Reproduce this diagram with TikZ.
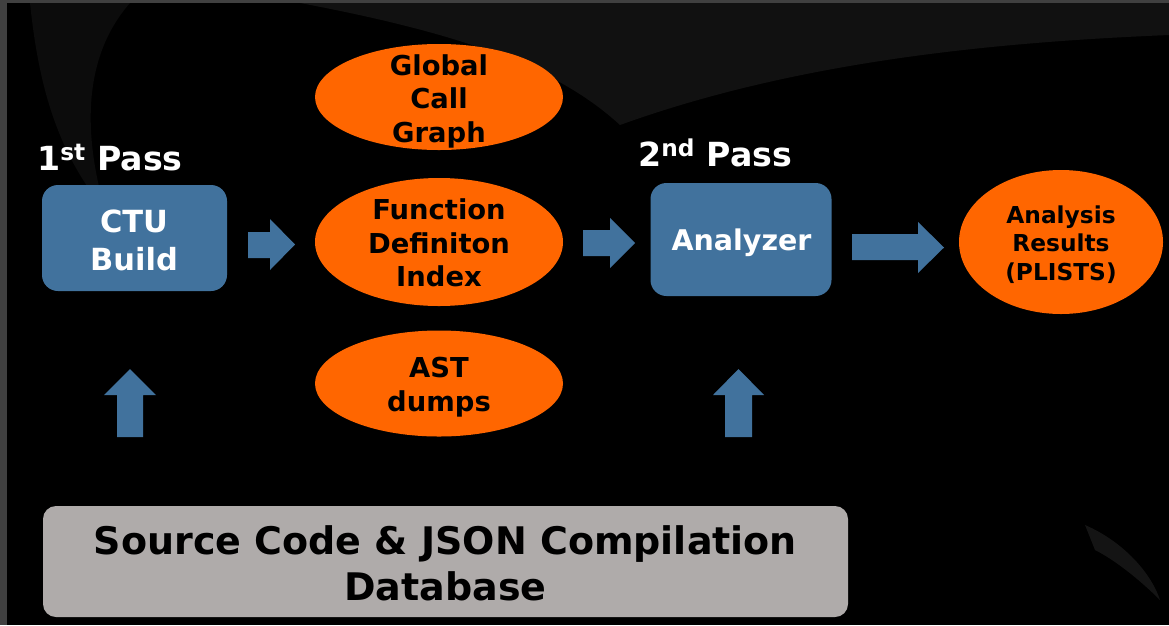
\documentclass[tikz,border=0pt]{standalone}
\usepackage{fontspec}
\setmainfont{DejaVu Sans}
\usetikzlibrary{shapes.geometric}
\definecolor{bluebox}{RGB}{65,114,157}
\definecolor{orng}{RGB}{255,102,0}
\definecolor{dbgray}{RGB}{175,171,170}
\definecolor{stripgray}{RGB}{64,64,64}
\definecolor{swooshA}{RGB}{17,17,17}
\definecolor{swooshB}{RGB}{12,12,12}
\definecolor{swooshC}{RGB}{20,20,20}
\begin{document}
\begin{tikzpicture}[x=1pt,y=-1pt,
  passlabel/.style={text=white,font=\bfseries\fontsize{33.2}{36}\selectfont,anchor=base west,inner sep=0},
  procbox/.style={fill=bluebox,rounded corners=16pt,text=white,align=center,inner sep=0},
  dataell/.style={ellipse,fill=orng,inner sep=0},
  elltext/.style={align=center,text=black,inner sep=0,
     font=\bfseries\fontsize{27.4}{33.5}\selectfont},
  blockarrow/.style={fill=bluebox},
  dbbox/.style={fill=dbgray,rounded corners=13pt,align=center,text=black,inner sep=0}]
\useasboundingbox (0,0) rectangle (1169,625);
% background
\fill[black] (0,0) rectangle (1169,625);
\fill[swooshA] (300,3) -- (1169,3) -- (1169,35) .. controls (1000,42) and (800,60) .. (620,125)
  .. controls (560,70) and (470,35) .. (300,3) -- cycle;
\fill[swooshB] (30,3) -- (130,3) .. controls (80,60) and (85,140) .. (105,210)
  .. controls (55,150) and (38,80) .. (30,3) -- cycle;
\fill[swooshC] (1085,525) .. controls (1120,540) and (1150,570) .. (1160,600)
  .. controls (1140,580) and (1115,560) .. (1095,550) -- cycle;
\fill[stripgray] (0,0) rectangle (7,625);
\fill[stripgray] (0,0) rectangle (1169,3);
% labels
\node[passlabel] (p1) at (37,170) {1\textsuperscript{st} Pass};
\node[passlabel] (p2) at (638,166) {2\textsuperscript{nd} Pass};
% boxes
\node[procbox,minimum width=185pt,minimum height=106pt] (ctu) at (134.5,238) {};
\node[text=white,align=center,inner sep=0,font=\bfseries\fontsize{30.5}{38}\selectfont,anchor=base]
  (ctut) at (134,270) {CTU\\Build};
\node[procbox,minimum width=181pt,minimum height=113pt] (ana) at (741,239.5) {};
\node[text=white,inner sep=0,font=\bfseries\fontsize{28.5}{34}\selectfont,anchor=base]
  (anat) at (741.5,250) {Analyzer};
% ellipses
\node[dataell,minimum width=248pt,minimum height=106pt] (gcg) at (439,97) {};
\node[elltext,anchor=base] (gcgt) at (439,142) {Global\\Call\\Graph};
\node[dataell,minimum width=248pt,minimum height=128pt] (fdi) at (439,242) {};
\node[elltext,anchor=base] (fdit) at (439,286.5) {Function\\Definiton\\Index};
\node[dataell,minimum width=248pt,minimum height=106pt] (ast) at (439,383.5) {};
\node[elltext,anchor=base] (astt) at (439,411) {AST\\dumps};
\node[dataell,minimum width=204pt,minimum height=144pt] (res) at (1061,242) {};
\node[align=center,inner sep=0,anchor=base,font=\bfseries\fontsize{23.3}{28.5}\selectfont]
  (rest) at (1061,280) {Analysis\\Results\\(PLISTS)};
% database
\node[dbbox,minimum width=805pt,minimum height=111pt] (db) at (445.5,561.5) {};
\node[align=center,inner sep=0,anchor=base,font=\bfseries\fontsize{38}{46}\selectfont]
  (dbt) at (445.5,600) {Source Code \& JSON Compilation\\Database};
% block arrows
\fill[blockarrow] (248,232) -- (270,232) -- (270,219) -- (295,244.5) -- (270,270) -- (270,258) -- (248,258) -- cycle;
\fill[blockarrow] (583,230) -- (610,230) -- (610,218) -- (635,243) -- (610,268) -- (610,256) -- (583,256) -- cycle;
\fill[blockarrow] (852,234) -- (918,234) -- (918,222) -- (944,247.5) -- (918,273) -- (918,260) -- (852,260) -- cycle;
\fill[blockarrow] (117,437) -- (117,395) -- (104,395) -- (130,369) -- (156,395) -- (143,395) -- (143,437) -- cycle;
\fill[blockarrow] (725,437) -- (725,395) -- (713,395) -- (738.5,369) -- (764,395) -- (752,395) -- (752,437) -- cycle;
\end{tikzpicture}
\end{document}
